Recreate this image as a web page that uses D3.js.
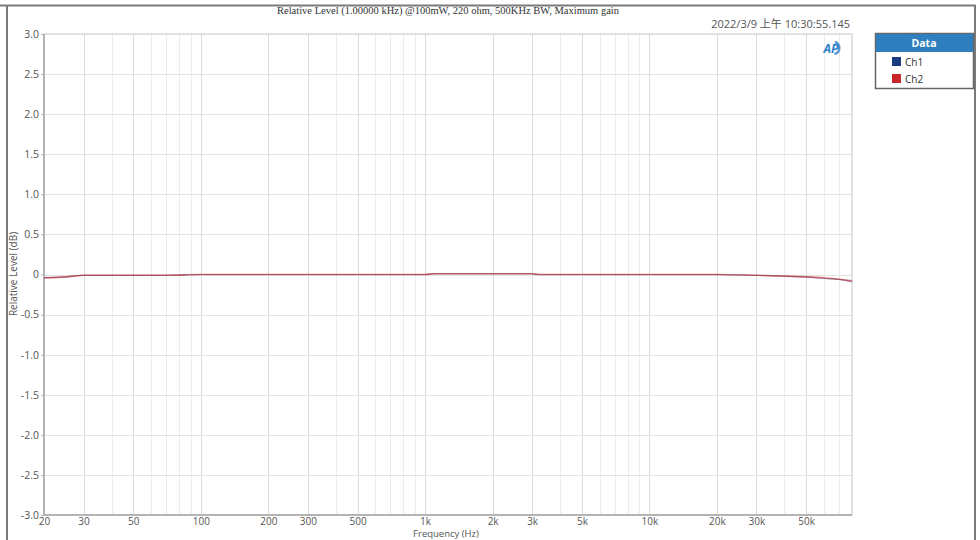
<!DOCTYPE html>
<html>
<head>
<meta charset="utf-8">
<script src="https://cdn.jsdelivr.net/npm/d3@7"></script>
<style>
  body { margin: 0; background: #fff; }
  text { font-family: "Open Sans", "Noto Sans", "Noto Sans CJK SC", sans-serif; }
</style>
</head>
<body>
<div id="graph"></div>
<script>
// frequencies (Hz) and relative level (dB)
let freqs = [20, 25, 30, 40, 50, 70, 100, 200, 500, 1000, 1100, 2000, 3000, 3200, 5000, 10000, 20000, 30000, 40000, 50000, 60000, 70000, 80000];
let ch1 = [-0.04, -0.03, -0.01, -0.01, -0.01, -0.01, 0.00, 0.00, 0.00, 0.00, 0.01, 0.01, 0.01, 0.00, 0.00, 0.00, 0.00, -0.01, -0.02, -0.03, -0.05, -0.06, -0.09];
let ch2 = [-0.04, -0.03, -0.01, -0.01, -0.01, -0.01, 0.00, 0.00, 0.00, 0.00, 0.01, 0.01, 0.01, 0.00, 0.00, 0.00, 0.00, -0.01, -0.02, -0.03, -0.04, -0.06, -0.08];
let seriesNames = ["Ch1", "Ch2"];
let seriesColors = ["#1c3a80", "#c8262b"];
let xTicks = [20, 30, 50, 100, 200, 300, 500, 1000, 2000, 3000, 5000, 10000, 20000, 30000, 50000];
let xTickLabels = ["20", "30", "50", "100", "200", "300", "500", "1k", "2k", "3k", "5k", "10k", "20k", "30k", "50k"];
let yTicks = [3, 2.5, 2, 1.5, 1, 0.5, 0, -0.5, -1, -1.5, -2, -2.5, -3];
let yTickLabels = ["3.0", "2.5", "2.0", "1.5", "1.0", "0.5", "0", "-0.5", "-1.0", "-1.5", "-2.0", "-2.5", "-3.0"];

let options = {
  width: 980,
  height: 540,
  plot: { left: 44, top: 34, right: 852, bottom: 515 }
};

let svg = d3.select("#graph")
            .append("svg")
            .attr("width", options.width)
            .attr("height", options.height);

let p = options.plot;

let xScale = d3.scaleLog()
               .domain([20, 80000])
               .range([p.left, p.right]);

let yScale = d3.scaleLinear()
               .domain([-3, 3])
               .range([p.bottom, p.top]);

// outer frame of the screenshot
svg.append("line").attr("x1", 0).attr("x2", 976).attr("y1", 5.5).attr("y2", 5.5)
   .attr("stroke", "#7a7a7a").attr("stroke-width", 2);
svg.append("line").attr("x1", 7).attr("x2", 7).attr("y1", 5).attr("y2", 540)
   .attr("stroke", "#7a7a7a").attr("stroke-width", 2);
svg.append("line").attr("x1", 975).attr("x2", 975).attr("y1", 5).attr("y2", 540)
   .attr("stroke", "#7a7a7a").attr("stroke-width", 2);

// vertical grid: every 1..9 step of each decade
let gridX = [];
for (let dec = 10; dec <= 10000; dec *= 10) {
  for (let m = 1; m <= 9; m++) {
    let f = dec * m;
    if (f > 20 && f < 80000) gridX.push(f);
  }
}
svg.append("g")
   .selectAll("line")
   .data(gridX)
   .join("line")
   .attr("x1", d => Math.round(xScale(d)) + 0.5)
   .attr("x2", d => Math.round(xScale(d)) + 0.5)
   .attr("y1", p.top)
   .attr("y2", p.bottom)
   .attr("stroke", d => xTicks.includes(d) ? "#dcdcdc" : "#ececec")
   .attr("stroke-width", 1);

svg.append("g")
   .selectAll("line")
   .data(yTicks.filter(d => d > -3 && d < 3))
   .join("line")
   .attr("x1", p.left)
   .attr("x2", p.right)
   .attr("y1", d => Math.round(yScale(d)) + 0.5)
   .attr("y2", d => Math.round(yScale(d)) + 0.5)
   .attr("stroke", "#e2e2e2");

// plot frame
svg.append("rect")
   .attr("x", p.left).attr("y", p.top)
   .attr("width", p.right - p.left).attr("height", p.bottom - p.top)
   .attr("fill", "none").attr("stroke", "#c4c4c4").attr("stroke-width", 1);
svg.append("line").attr("x1", p.left).attr("x2", p.left).attr("y1", p.top).attr("y2", p.bottom)
   .attr("stroke", "#b4b4b4").attr("stroke-width", 2);
svg.append("line").attr("x1", p.left).attr("x2", p.right).attr("y1", p.bottom).attr("y2", p.bottom)
   .attr("stroke", "#b4b4b4").attr("stroke-width", 2);

// axes labels
let xAxis = d3.axisBottom(xScale)
              .tickValues(xTicks)
              .tickFormat((d, i) => xTickLabels[i])
              .tickSize(0)
              .tickPadding(3);
let gx = svg.append("g").attr("transform", `translate(0,${p.bottom})`).call(xAxis);
gx.select(".domain").remove();
gx.selectAll("text").attr("fill", "#555").style("font-size", "10px");

let yAxis = d3.axisLeft(yScale)
              .tickValues(yTicks)
              .tickFormat((d, i) => yTickLabels[i])
              .tickSize(3)
              .tickPadding(2);
let gy = svg.append("g").attr("transform", `translate(${p.left},0)`).call(yAxis);
gy.select(".domain").remove();
gy.selectAll("line").attr("stroke", "#b4b4b4");
gy.selectAll("text").attr("fill", "#555").style("font-size", "10.5px");

svg.append("text")
   .text("Frequency (Hz)")
   .attr("x", 446).attr("y", 537)
   .attr("text-anchor", "middle")
   .attr("fill", "#555")
   .style("font-size", "9.5px");

svg.append("text")
   .text("Relative Level (dB)")
   .attr("transform", "translate(17,274) rotate(-90)")
   .attr("text-anchor", "middle")
   .attr("fill", "#555")
   .style("font-size", "10px");

// title and timestamp
svg.append("text")
   .text("Relative Level (1.00000 kHz) @100mW, 220 ohm, 500KHz BW, Maximum gain")
   .attr("x", 448).attr("y", 14)
   .attr("text-anchor", "middle")
   .attr("fill", "#333")
   .style("font-family", "'Liberation Serif', serif")
   .style("font-size", "10.5px");

svg.append("text")
   .text("2022/3/9 上午 10:30:55.145")
   .attr("x", 850).attr("y", 28)
   .attr("text-anchor", "end")
   .attr("fill", "#555")
   .style("font-size", "11px");

// AP logo
let logo = svg.append("g").attr("transform", "translate(833,48)");
logo.append("path")
    .attr("d", d3.arc()({ innerRadius: 5, outerRadius: 7.5, startAngle: 0.3, endAngle: 2.9 }))
    .attr("fill", "#2f7fc8")
    .attr("opacity", 0.8);
logo.append("text")
    .text("AP")
    .attr("x", -2).attr("y", 4.5)
    .attr("text-anchor", "middle")
    .attr("fill", "#2f7fc8")
    .style("font-size", "12px")
    .style("font-weight", "bold")
    .style("font-style", "italic");

// data lines
let line = d3.line()
             .x(d => xScale(d[0]))
             .y(d => yScale(d[1]))
             .curve(d3.curveMonotoneX);

[ch1, ch2].forEach((vals, i) => {
  svg.append("path")
     .datum(freqs.map((f, j) => [f, vals[j]]))
     .attr("d", line)
     .attr("fill", "none")
     .attr("stroke", seriesColors[i])
     .attr("stroke-opacity", i === 1 ? 0.6 : 0.5)
     .attr("stroke-width", i === 1 ? 1.6 : 1.2);
});

// legend
let legend = svg.append("g").attr("id", "legend");
legend.append("rect")
      .attr("x", 875.5).attr("y", 33.5).attr("width", 98).attr("height", 55)
      .attr("fill", "#fff").attr("stroke", "#666").attr("stroke-width", 1.5);
legend.append("rect")
      .attr("x", 876).attr("y", 34).attr("width", 97).attr("height", 18)
      .attr("fill", "#2f7fbf");
legend.append("text")
      .text("Data")
      .attr("x", 924).attr("y", 47)
      .attr("text-anchor", "middle")
      .attr("fill", "#fff")
      .style("font-size", "10.5px")
      .style("font-weight", "bold");

seriesNames.forEach((name, i) => {
  legend.append("rect")
        .attr("x", 892).attr("y", 57 + i * 17)
        .attr("width", 9).attr("height", 9)
        .attr("fill", seriesColors[i]);
  legend.append("text")
        .text(name)
        .attr("x", 905).attr("y", 65.5 + i * 17)
        .attr("fill", "#333")
        .style("font-size", "10px");
});
</script>
</body>
</html>
